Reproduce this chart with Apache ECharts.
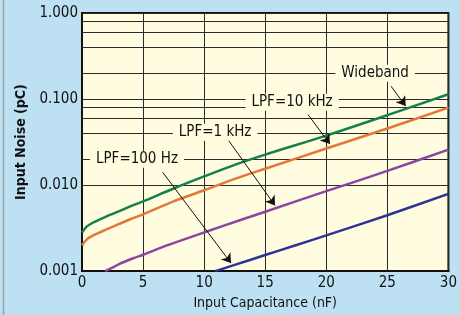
<!DOCTYPE html>
<html>
<head>
<meta charset="utf-8">
<script src="https://cdn.jsdelivr.net/npm/echarts@6/dist/echarts.min.js"></script>
<style>
  html, body { margin: 0; padding: 0; background: #BDE0F3; }
  #ChartMain { width: 460px; height: 315px; }
</style>
</head>
<body>
<div id="ChartMain"></div>
<script>
// values
var capWide = [0, 0.4, 1, 2, 3, 4, 5, 7.5, 10, 12.5, 15, 20, 25, 30];
var noiseWide = [0.0028, 0.00331, 0.00372, 0.00432, 0.00495, 0.00569, 0.00646, 0.00912, 0.0126, 0.0172, 0.0226, 0.0376, 0.0649, 0.1138];
var cap10k = [0, 0.4, 1, 2, 3, 4, 5, 7.5, 10, 12.5, 15, 20, 25, 30];
var noise10k = [0.0020, 0.00234, 0.00263, 0.00305, 0.00351, 0.00403, 0.00457, 0.00646, 0.0087, 0.0118, 0.0155, 0.0266, 0.0455, 0.0794];
var cap1k = [1.9, 2.4, 3, 4.2, 5, 7, 9.6, 11.2, 15, 20, 25, 30];
var noise1k = [0.001, 0.00108, 0.0012, 0.00141, 0.00155, 0.002, 0.00269, 0.00322, 0.0049, 0.0085, 0.0146, 0.0258];
var cap100 = [10.9, 12.5, 15, 17.5, 20, 25, 30];
var noise100 = [0.001, 0.00118, 0.00154, 0.002, 0.0026, 0.00446, 0.0079];
var minorGrid = [0.002, 0.004, 0.006, 0.008, 0.02, 0.04, 0.06, 0.08, 0.2, 0.4, 0.6, 0.8];
var labelNames = ['Wideband', 'LPF=10 kHz', 'LPF=1 kHz', 'LPF=100 Hz'];
var labelAt = [[24, 0.2], [17.2, 0.092], [10.9, 0.041], [4.5, 0.02]];
var arrowFrom = [[25.3, 0.141], [18.5, 0.066], [12.0, 0.033], [6.6, 0.0141]];
var arrowTo = [[26.5, 0.083], [20.3, 0.030], [15.8, 0.0058], [12.2, 0.00124]];

var FONT = "'Liberation Sans Narrow', 'DejaVu Sans Condensed', 'Roboto', sans-serif";
var PLOT_BG = '#FFFCE0';
var GRID_COLOR = '#2b2b2b';

function pairs(xs, ys) {
    return xs.map(function (x, i) { return [x, ys[i]]; });
}

function curve(name, xs, ys, color) {
    return {
        name: name, type: 'line', smooth: 0.3, showSymbol: false, z: 3,
        lineStyle: {color: color, width: 2.5},
        data: pairs(xs, ys)
    };
}

var chart = echarts.init(document.getElementById('ChartMain'));
var series = [
    curve('Wideband', capWide, noiseWide, '#14804A'),
    curve('LPF=10 kHz', cap10k, noise10k, '#E07A36'),
    curve('LPF=1 kHz', cap1k, noise1k, '#8C46A0'),
    curve('LPF=100 Hz', cap100, noise100, '#2C3596'),
    {
        // minor grid lines at 2,4,6,8 in each decade
        type: 'line', data: [], z: 1,
        markLine: {
            silent: true, symbol: 'none', z: 1, animation: false,
            label: {show: false},
            lineStyle: {color: GRID_COLOR, width: 1, type: 'solid'},
            data: minorGrid.map(function (v) { return {yAxis: v}; })
        }
    },
    {
        // callout arrows and labels
        type: 'line', data: [], z: 6,
        markLine: {
            silent: true, symbol: ['none', 'arrow'], symbolSize: 9, z: 6, animation: false,
            label: {show: false},
            lineStyle: {color: '#111', width: 1, type: 'solid'},
            data: arrowFrom.map(function (p, i) {
                return [{coord: p}, {coord: arrowTo[i]}];
            })
        },
        markPoint: {
            silent: true, symbol: 'rect', symbolSize: 0, z: 7, animation: false,
            label: {
                show: true, position: 'inside', color: '#111', fontFamily: FONT,
                fontSize: 15, backgroundColor: PLOT_BG, padding: [1, 6]
            },
            data: labelAt.map(function (p, i) {
                return {coord: p, value: labelNames[i], label: {formatter: labelNames[i]}};
            })
        }
    }
];

var option = {
    backgroundColor: '#BDE0F3',
    animation: false,
    textStyle: {fontFamily: FONT},
    grid: {
        left: 82, right: 9, top: 13, bottom: 42,
        show: true, backgroundColor: PLOT_BG, borderColor: '#111', borderWidth: 2
    },
    xAxis: {
        type: 'value', min: 0, max: 30, interval: 5,
        name: 'Input Capacitance (nF)', nameLocation: 'middle', nameGap: 22,
        nameTextStyle: {fontFamily: FONT, fontSize: 14, color: '#111'},
        axisLine: {lineStyle: {color: '#111', width: 2}},
        axisTick: {show: false},
        axisLabel: {fontFamily: FONT, fontSize: 15, color: '#111', margin: 5},
        splitLine: {show: true, lineStyle: {color: GRID_COLOR, width: 1}}
    },
    yAxis: {
        type: 'log', logBase: 10, min: 0.001, max: 1,
        name: 'Input Noise (pC)', nameLocation: 'middle', nameGap: 45,
        nameTextStyle: {fontFamily: FONT, fontSize: 14, fontWeight: 'bold', color: '#111'},
        axisLine: {lineStyle: {color: '#111', width: 2}},
        axisTick: {show: false},
        axisLabel: {
            fontFamily: FONT, fontSize: 15, color: '#111', margin: 4,
            formatter: function (v) { return v.toFixed(3); }
        },
        splitLine: {show: true, lineStyle: {color: GRID_COLOR, width: 1}}
    },
    graphic: [{
        type: 'line', silent: true,
        shape: {x1: 3.5, y1: 0, x2: 3.5, y2: 315},
        style: {stroke: '#9aa3a8', lineWidth: 1.5}
    }],
    series: series
};
chart.setOption(option);
</script>
</body>
</html>
